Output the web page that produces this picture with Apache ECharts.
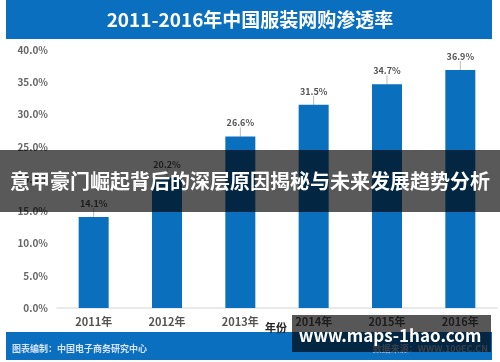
<!DOCTYPE html>
<html><head><meta charset="utf-8">
<script src="https://cdn.jsdelivr.net/npm/echarts@6/dist/echarts.min.js"></script>
<style>html,body{margin:0;padding:0;background:#fff}#c{width:500px;height:362px}</style>
</head><body><div id="c"></div>
<script>
var years = ['2011年','2012年','2013年','2014年','2015年','2016年'];
var rates = [14.1, 20.2, 26.6, 31.5, 34.7, 36.9];
var yTicks = {min: 0, max: 40, interval: 5};
var titleText = '2011-2016年中国服装网购渗透率';
var overlayText = '意甲豪门崛起背后的深层原因揭秘与未来发展趋势分析';
var watermark = 'www.maps-1hao.com';
var footLeft = '图表编制：中国电子商务研究中心';
var footRight = '数据来源：WWW.100EC.CN';
var axisName = '年份';

var F = '"Noto Sans CJK SC", "Noto Sans", sans-serif';
var chart = echarts.init(document.getElementById('c'));
chart.setOption({
  animation: false,
  grid: {left: 57, right: 3, top: 50, bottom: 54},
  xAxis: {
    type: 'category', data: years,
    axisLine: {lineStyle: {color: '#e2e2e2', width: 1.5}},
    axisTick: {show: false},
    axisLabel: {color: '#555', fontSize: 11, fontWeight: 'bold', margin: 8, fontFamily: F}
  },
  yAxis: {
    type: 'value', min: yTicks.min, max: yTicks.max, interval: yTicks.interval,
    splitLine: {show: false},
    axisLine: {show: false}, axisTick: {show: false},
    axisLabel: {color: '#666', fontSize: 10, fontWeight: 'bold', margin: 9, fontFamily: F,
      formatter: function(v){return v.toFixed(1) + '%';}}
  },
  series: [{
    type: 'bar', data: rates, barWidth: 30,
    itemStyle: {color: '#0a6fbd'},
    label: {show: true, position: 'top', distance: 2, color: '#555', fontSize: 9, fontWeight: 'bold',
      fontFamily: F, formatter: function(p){return p.value.toFixed(1) + '%';}},
    labelLayout: {dy: -7},
    labelLine: {show: true, lineStyle: {color: '#bbb', width: 1}}
  }],
  graphic: [
    {type: 'rect', shape: {x: 6, y: 0, width: 486, height: 39}, style: {fill: '#0b6fc0'}, z: 50},
    {type: 'text', x: 250, y: 20, style: {text: titleText, fill: '#fff', font: 'bold 19px ' + F, align: 'center', verticalAlign: 'middle'}, z: 51},
    {type: 'rect', shape: {x: 6, y: 332, width: 486, height: 28}, style: {fill: '#0b6fc0'}, z: 50},
    {type: 'text', x: 12, y: 349, style: {text: footLeft, fill: '#d6e4f5', font: 'bold 9px ' + F, verticalAlign: 'middle'}, z: 51},
    {type: 'text', x: 488, y: 349, style: {text: footRight, fill: '#9fb8d4', font: 'bold 9px ' + F, align: 'right', verticalAlign: 'middle'}, z: 51},
    {type: 'text', x: 265, y: 328, style: {text: axisName, fill: '#222', font: 'bold 11px ' + F, verticalAlign: 'middle'}, z: 51},
    {type: 'rect', shape: {x: 0, y: 150, width: 500, height: 62}, style: {fill: 'rgba(0,0,0,0.65)'}, z: 60},
    {type: 'text', x: 250, y: 181, style: {text: overlayText, fill: '#fff', font: 'bold 20px ' + F, align: 'center', verticalAlign: 'middle'}, z: 61},
    {type: 'rect', shape: {x: 292, y: 315, width: 199, height: 37}, style: {fill: 'rgba(0,0,0,0.66)'}, z: 60},
    {type: 'text', x: 390, y: 336, style: {text: watermark, fill: '#fff', font: 'bold 17px ' + F, align: 'center', verticalAlign: 'middle'}, z: 61}
  ]
});
</script></body></html>
